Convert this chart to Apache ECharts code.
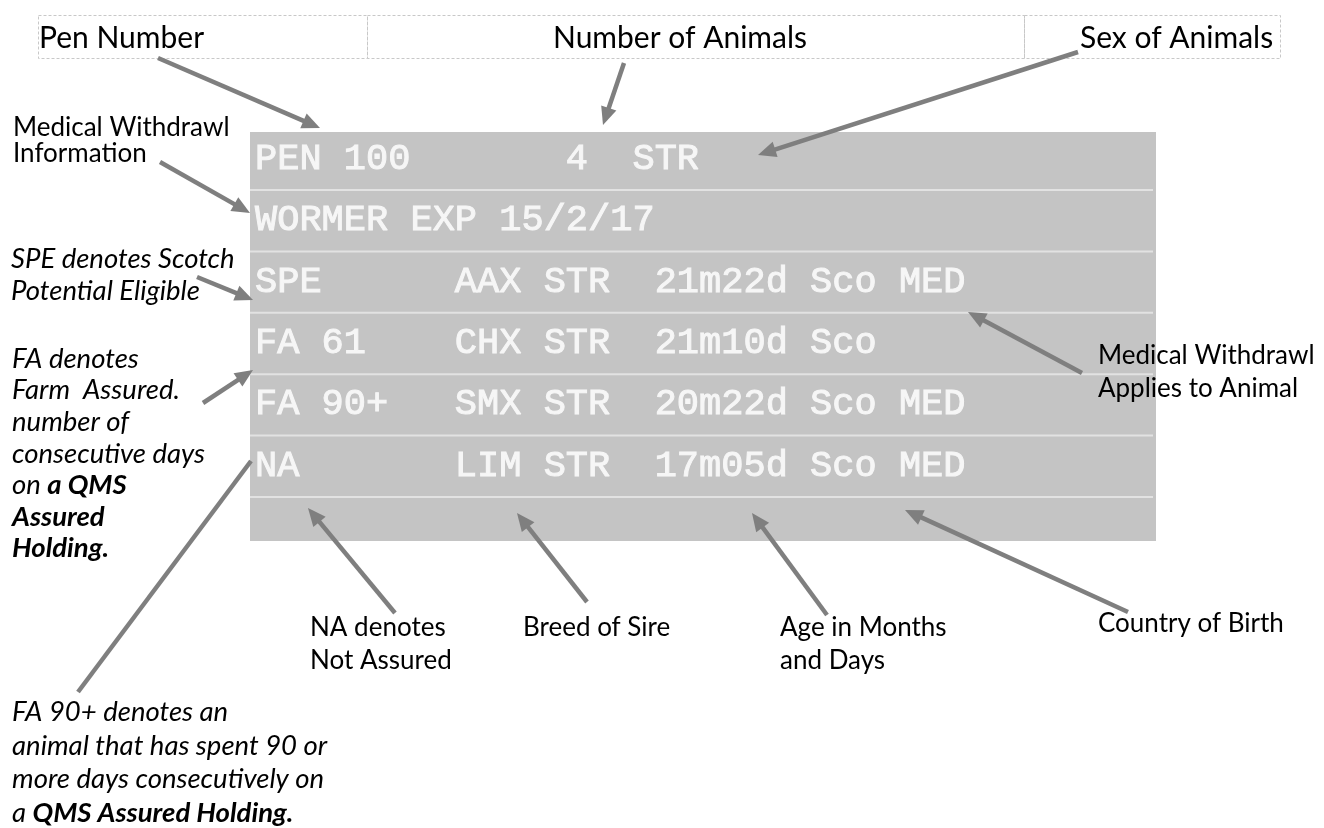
<!DOCTYPE html>
<html><head><meta charset="utf-8">
<script src="https://cdn.jsdelivr.net/npm/echarts@6/dist/echarts.min.js"></script>
<style>html,body{margin:0;padding:0;background:#fff}#chart{width:1324px;height:828px}</style>
</head><body><div id="chart"></div>
<script>
// ---------------- data ----------------
const headerLabels = ["Pen Number", "Number of Animals", "Sex of Animals"];
const cardLines = [
  "PEN 100       4  STR",
  "WORMER EXP 15/2/17",
  "SPE      AAX STR  21m22d Sco MED",
  "FA 61    CHX STR  21m10d Sco",
  "FA 90+   SMX STR  20m22d Sco MED",
  "NA       LIM STR  17m05d Sco MED",
  ""
];
const medInfoNote = ["Medical Withdrawl", "Information"];
const speNote = ["SPE denotes Scotch", "Potential Eligible"];
const faNote = ["FA denotes", "Farm  Assured.", "number of", "consecutive days", "on {b|a QMS}", "{b|Assured}", "{b|Holding.}"];
const fa90Note = ["FA 90+ denotes an", "animal that has spent 90 or", "more days consecutively on", "a {b|QMS Assured Holding.}"];
const naNote = ["NA denotes", "Not Assured"];
const breedNote = ["Breed of Sire"];
const ageNote = ["Age in Months", "and Days"];
const countryNote = ["Country of Birth"];
const medAppliesNote = ["Medical Withdrawl", "Applies to Animal"];
// arrow tails and tips in the diagram's coordinate space (x right, y down)
const arrowTails = [[158,58],[624,63],[1078,52],[160,162],[197,277],[203,403],[78,692],[1082,373],[395,613],[587,602],[827,615],[1128,612]];
const arrowTips  = [[320,128],[603,125],[758,155],[250,213],[253,300],[253,370],[251,461],[968,312],[308,508],[517,513],[752,513],[905,510]];
const arrowHasHead = [1,1,1,1,1,1,0,1,1,1,1,1];

// ---------------- layout / style ----------------
const W = 1324, H = 828;
const NOTE_FAMILY = "Lato, 'Open Sans', sans-serif";
const CARD_FAMILY = "'Liberation Mono', 'Courier New', monospace";
const NOTE_SIZE = 26, ITALIC_SIZE = 27.5, HEAD_SIZE = 30, CARD_SIZE = 37;
const PANEL = {left: 250, right: 1156, top: 132, bottom: 541, textX: 255};
function rowTop(i){ return i === 0 ? PANEL.top : 190 + 61.4 * (i - 1); }
function rowBottom(i){ return i === cardLines.length - 1 ? PANEL.bottom : 190 + 61.4 * i; }
const headerEdges = [38, 367, 1024, 1280];
const headerBox = {top: 15, bottom: 58, textY: 38};
const headerTextX = [39, 553, 1080];
const notePlacements = [
  {lines: medInfoNote, x: 13, y: 128, step: 26, italic: false},
  {lines: speNote, x: 11, y: 259, step: 32, italic: true},
  {lines: faNote, x: 12, y: 359, step: 31.6, italic: true},
  {lines: fa90Note, x: 12, y: 712, step: 33.7, italic: true},
  {lines: naNote, x: 310, y: 628, step: 33, italic: false},
  {lines: breedNote, x: 523, y: 628, step: 33, italic: false},
  {lines: ageNote, x: 780, y: 628, step: 33, italic: false},
  {lines: countryNote, x: 1098, y: 624, step: 33, italic: false},
  {lines: medAppliesNote, x: 1098, y: 356, step: 33, italic: false}
];
const ARROW_COLOR = '#7f7f7f';

// ---------------- build ----------------
function toRich(line){
  return line.split(/(\{b\|[^}]*\})/).filter(s => s.length)
    .map(s => s.indexOf('{b|') === 0 ? s : '{r|' + s + '}').join('');
}
function richFor(italic){
  const size = italic ? ITALIC_SIZE : NOTE_SIZE;
  return {
    r: {fontFamily: NOTE_FAMILY, fontSize: size, fontStyle: italic ? 'italic' : 'normal', fontWeight: 'normal', fill: '#000'},
    b: {fontFamily: NOTE_FAMILY, fontSize: size, fontStyle: 'italic', fontWeight: 'bold', fill: '#000'}
  };
}
const noteData = [];
notePlacements.forEach(pl => {
  pl.lines.forEach((ln, i) => {
    noteData.push({value: [pl.x, pl.y + pl.step * i], text: toRich(ln), italic: pl.italic});
  });
});
const arrowData = arrowTails.map((t, i) => ({value: [t[0], t[1], arrowTips[i][0], arrowTips[i][1], arrowHasHead[i]]}));
const cardData = cardLines.map((t, i) => ({value: [PANEL.textX, rowBottom(i) - 31], text: t, row: i}));
const headerData = headerLabels.map((t, i) => ({value: [headerTextX[i], headerBox.textY], text: t, idx: i}));

const chart = echarts.init(document.getElementById('chart'), null, {renderer: 'canvas'});
chart.setOption({
  animation: false,
  grid: {left: 0, right: 0, top: 0, bottom: 0},
  xAxis: {type: 'value', min: 0, max: W, show: false},
  yAxis: {type: 'value', min: 0, max: H, inverse: true, show: false},
  series: [
    { // panel background
      type: 'custom', z: 1, silent: true,
      data: [{value: [PANEL.left, PANEL.top, PANEL.right, PANEL.bottom]}],
      encode: {x: [0, 2], y: [1, 3]},
      renderItem: (params, api) => {
        const a = api.coord([api.value(0), api.value(1)]);
        const b = api.coord([api.value(2), api.value(3)]);
        return {type: 'rect', shape: {x: a[0], y: a[1], width: b[0] - a[0], height: b[1] - a[1]}, style: {fill: '#c4c4c4'}};
      }
    },
    { // card rows: separators + monospaced text
      type: 'custom', z: 2, silent: true,
      data: cardData,
      renderItem: (params, api) => {
        const d = cardData[params.dataIndex];
        const p = api.coord([api.value(0), api.value(1)]);
        const children = [];
        if (d.row > 0) {
          const l = api.coord([PANEL.left, rowTop(d.row)]);
          const r = api.coord([PANEL.right - 3, rowTop(d.row)]);
          children.push({type: 'line', shape: {x1: l[0], y1: l[1], x2: r[0], y2: r[1]}, style: {stroke: '#e2e2e2', lineWidth: 2}});
        }
        children.push({type: 'text', x: p[0], y: p[1], style: {
          text: d.text, fontFamily: CARD_FAMILY, fontSize: CARD_SIZE, fill: '#f6f6f6',
          stroke: '#f6f6f6', lineWidth: 1, align: 'left', verticalAlign: 'middle'}});
        return {type: 'group', children};
      }
    },
    { // header dashed boxes and labels
      type: 'custom', z: 2, silent: true,
      data: headerData,
      renderItem: (params, api) => {
        const d = headerData[params.dataIndex];
        const tl = api.coord([headerEdges[d.idx], headerBox.top]);
        const br = api.coord([headerEdges[d.idx + 1], headerBox.bottom]);
        const p = api.coord([api.value(0), api.value(1)]);
        return {type: 'group', children: [
          {type: 'rect', shape: {x: tl[0] + 0.5, y: tl[1] + 0.5, width: br[0] - tl[0], height: br[1] - tl[1]},
           style: {fill: null, stroke: '#c8c8c8', lineWidth: 1, lineDash: [3, 2]}},
          {type: 'text', x: p[0], y: p[1], style: {text: d.text, fontFamily: NOTE_FAMILY, fontSize: HEAD_SIZE,
           fill: '#000', align: 'left', verticalAlign: 'middle'}}
        ]};
      }
    },
    { // arrows
      type: 'custom', z: 3, silent: true,
      data: arrowData,
      encode: {x: [0, 2], y: [1, 3]},
      renderItem: (params, api) => {
        const p1 = api.coord([api.value(0), api.value(1)]);
        const p2 = api.coord([api.value(2), api.value(3)]);
        const head = api.value(4) === 1;
        const dx = p2[0] - p1[0], dy = p2[1] - p1[1];
        const len = Math.sqrt(dx * dx + dy * dy);
        const ux = dx / len, uy = dy / len;
        const hl = 18, hw = 8;
        const bx = p2[0] - ux * hl, by = p2[1] - uy * hl;
        const children = [{type: 'line', shape: {x1: p1[0], y1: p1[1], x2: head ? bx + ux * 2 : p2[0], y2: head ? by + uy * 2 : p2[1]},
          style: {stroke: ARROW_COLOR, lineWidth: 4.5, lineCap: 'butt'}}];
        if (head) {
          children.push({type: 'polygon', shape: {points: [[p2[0], p2[1]], [bx - uy * hw, by + ux * hw], [bx + uy * hw, by - ux * hw]]},
            style: {fill: ARROW_COLOR}});
        }
        return {type: 'group', children};
      }
    },
    { // annotation texts
      type: 'custom', z: 4, silent: true,
      data: noteData,
      renderItem: (params, api) => {
        const d = noteData[params.dataIndex];
        const p = api.coord([api.value(0), api.value(1)]);
        return {type: 'text', x: p[0], y: p[1], style: {
          text: d.text, rich: richFor(d.italic), fontFamily: NOTE_FAMILY,
          fontSize: d.italic ? ITALIC_SIZE : NOTE_SIZE,
          fontStyle: d.italic ? 'italic' : 'normal', fill: '#000', align: 'left', verticalAlign: 'middle'}};
      }
    }
  ]
});
</script>
</body></html>
